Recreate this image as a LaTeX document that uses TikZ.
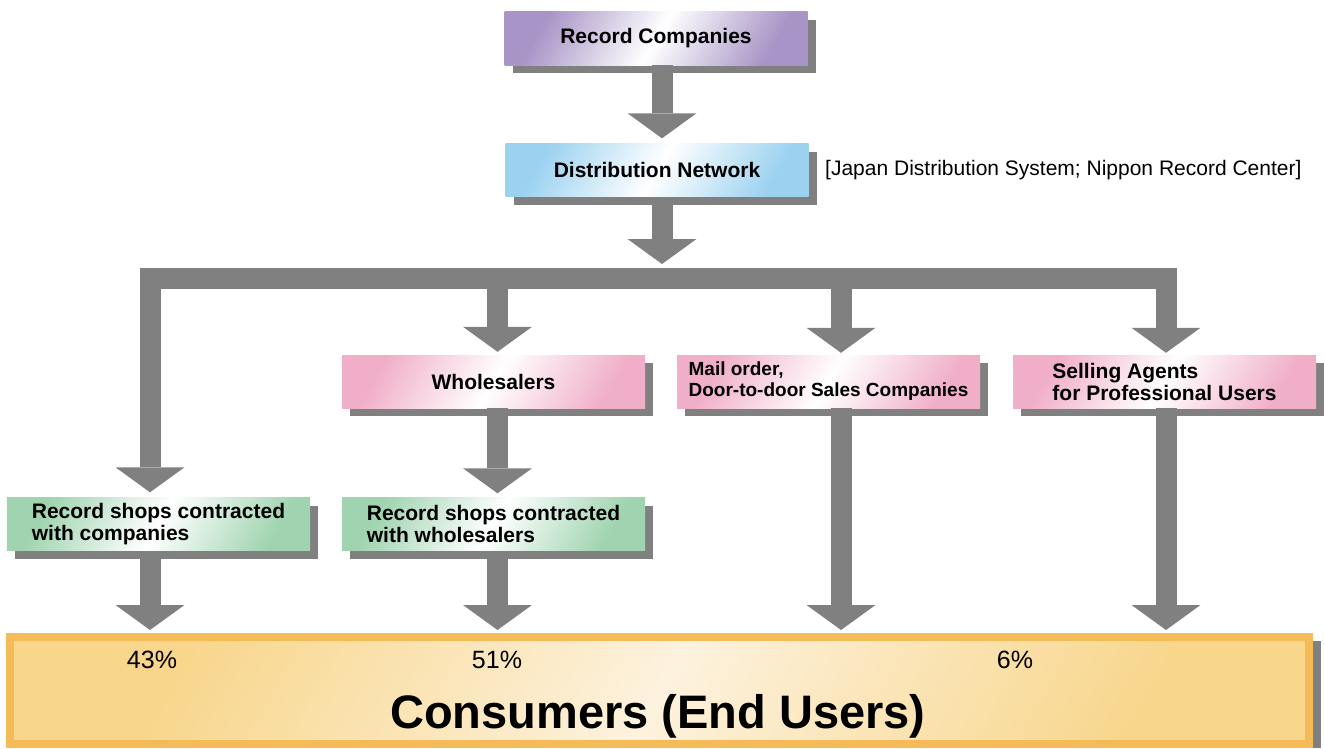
\documentclass[tikz,border=0pt]{standalone}
\usepackage{fontspec}
\setmainfont{Liberation Sans}
\usetikzlibrary{arrows.meta,positioning,shadows,calc}

\definecolor{flowgray}{RGB}{128,128,128}
\definecolor{recpurple}{RGB}{168,148,198}
\definecolor{distblue}{RGB}{156,210,240}
\definecolor{salepink}{RGB}{240,174,200}
\definecolor{shopgreen}{RGB}{160,212,176}
\definecolor{conborder}{RGB}{245,187,88}
\definecolor{conedge}{RGB}{248,214,140}
\definecolor{conmid}{RGB}{253,242,222}

\tikzset{
  bigtip/.tip={Triangle[width=69bp,length=25bp,line width=0pt]},
  flow/.style={draw=flowgray, line width=21bp, -bigtip},
  box/.style={minimum width=303bp, minimum height=53bp, inner sep=0pt,
    align=left, font=\fontsize{21bp}{22bp}\selectfont\bfseries,
    general shadow={fill=flowgray, shadow xshift=8bp, shadow yshift=-8bp}},
  shadebox/.style={box, left color=#1, right color=#1, middle color=white,
    shading angle=60},
}

\begin{document}
\begin{tikzpicture}[x=1bp,y=-1bp]
\useasboundingbox (0,0) rectangle (1324,748);

% columns of the arrows
\coordinate (c0) at (662,0);
\coordinate (c1) at (150,0);
\coordinate (c2) at (497.5,0);
\coordinate (c3) at (841,0);
\coordinate (c4) at (1166,0);
\coordinate (bar) at (0,278.5);

\node[shadebox=recpurple] (reccomp) at (656,38.5) {Record Companies};
\node[shadebox=distblue] (distnet) at (657,170) {Distribution Network};
\node[right=13bp of distnet, font=\fontsize{21bp}{22bp}\selectfont] (distnote)
  {[Japan Distribution System; Nippon Record Center]};

\node[shadebox=salepink] (wholes) at (493.5,381.5) {Wholesalers};
\node[shadebox=salepink, font=\fontsize{19bp}{21bp}\selectfont\bfseries] (mailord)
  at (828.5,381.5) {Mail order,\\Door-to-door Sales Companies};
\node[shadebox=salepink] (sellag) at (1164.5,381.5) {Selling Agents\\for Professional Users};

\node[shadebox=shopgreen] (shopco) at (158.5,524) {Record shops contracted\\with companies};
\node[shadebox=shopgreen] (shopwh) at (493.5,524) {Record shops contracted\\with wholesalers};

\node[draw=conborder, line width=8bp, minimum width=1299bp, minimum height=107bp,
  left color=conedge, right color=conedge, middle color=conmid, shading angle=60,
  general shadow={fill=flowgray, shadow xshift=12bp, shadow yshift=-4bp}]
  (consumers) at (659.5,690.5) {};

\foreach \name/\x/\pct in {p43/152/43, p51/497/51, p6/1015/6}
{
	\node[font=\fontsize{25bp}{27bp}\selectfont] (\name) at (\x,660) {\pct\%};
};
\node[anchor=base, font=\fontsize{47bp}{50bp}\selectfont\bfseries] (contitle)
  at (658,728) {Consumers (End Users)};

% arrows
\draw[flow] (reccomp.south -| c0) -- ($(distnet.north -| c0)+(0,-5)$);
\draw[flow] (distnet.south -| c0) -- ($(bar -| c0)+(0,-14.5)$);
\draw[flow, bigtip-bigtip, line join=miter] ($(shopco.north -| c1)+(0,-5)$)
  -- (bar -| c1) -- (bar -| c4) -- ($(sellag.north -| c4)+(0,-2)$);
\draw[flow] (bar -| c2) -- ($(wholes.north -| c2)+(0,-3)$);
\draw[flow] (bar -| c3) -- ($(mailord.north -| c3)+(0,-2)$);
\draw[flow] (wholes.south -| c2) -- ($(shopwh.north -| c2)+(0,-4)$);

\foreach \n/\c in {shopco/c1, shopwh/c2, mailord/c3, sellag/c4}
{
	\draw[flow] (\n.south -| \c) -- ($(consumers.north -| \c)+(0,-3)$);
};
\end{tikzpicture}
\end{document}
